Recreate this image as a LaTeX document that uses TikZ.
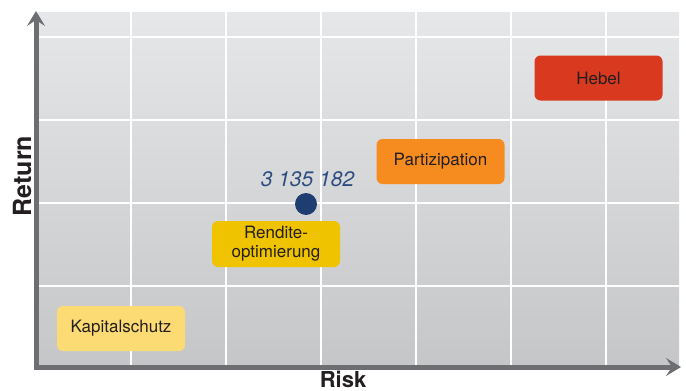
\documentclass[tikz,border=0pt]{standalone}
\usepackage{fontspec}
\setmainfont{TeX Gyre Heros}
\usetikzlibrary{arrows.meta}
\definecolor{bgtop}{HTML}{E6E7E8}
\definecolor{bgbottom}{HTML}{C5C6C8}
\definecolor{axisgray}{HTML}{6D6E71}
\definecolor{textdark}{HTML}{231F20}
\definecolor{safeyellow}{HTML}{FDDB74}
\definecolor{yieldyellow}{HTML}{EFC300}
\definecolor{partorange}{HTML}{F68B1F}
\definecolor{leverred}{HTML}{D8391F}
\definecolor{pointblue}{HTML}{1E3E72}
\definecolor{labelblue}{HTML}{2C4B80}
\tikzset{
    product/.style = {
        rounded corners=6pt,
        minimum width=128pt,
        minimum height=45pt,
        inner sep=0pt,
        align=center,
        text=textdark,
        font=\fontsize{17}{19}\selectfont,
        },
    axis/.style = {
        draw=axisgray,
        line width=5pt,
        -{Stealth[length=15pt,width=18pt,inset=6pt]},
        },
    axis label/.style = {
        text=textdark,
        font=\fontsize{25}{28}\selectfont\bfseries,
        },
    grid line/.style = {
        draw=white,
        line width=2.5pt,
        },
}

\begin{document}
\begin{tikzpicture}[x=1pt, y=-1pt]
    \useasboundingbox (0,0) rectangle (686,391);

    % background and grid
    \shade[top color=bgtop, bottom color=bgbottom] (38,12) rectangle (679,366);
    \foreach \gx in {131,226,321,416,511,606}
        \draw[grid line] (\gx,12) -- (\gx,366);
    \foreach \gy in {37,120,203,286}
        \draw[grid line] (38,\gy) -- (679,\gy);

    % axes
    \coordinate (origin) at (36,367);
    \coordinate (ytop) at (36,11);
    \coordinate (xend) at (681,367);
    \draw[axis] ([yshift=2.5pt]origin) -- (ytop);
    \draw[axis] ([xshift=-2.5pt]origin) -- (xend);
    \node[axis label, rotate=90] (return) at (22,176) {Return};
    \node[axis label, font=\fontsize{22}{24}\selectfont\bfseries, anchor=base, inner sep=0pt] (risk) at (343,387) {Risk};

    % products
    \node[product, fill=safeyellow] (kapital) at (121,328.5) {Kapitalschutz};
    \node[product, fill=yieldyellow, minimum height=46pt] (rendite) at (276,244) {Rendite-\\optimierung};
    \node[product, fill=partorange] (partizipation) at (440.5,161.5) {Partizipation};
    \node[product, fill=leverred] (hebel) at (598.5,78) {Hebel};

    % position
    \node[circle, fill=pointblue, minimum size=22pt, inner sep=0pt] (point) at (306,204) {};
    \node[text=labelblue, font=\fontsize{21}{24}\selectfont\itshape] (pointlabel) at (307.5,179.5) {3 135 182};
\end{tikzpicture}
\end{document}
